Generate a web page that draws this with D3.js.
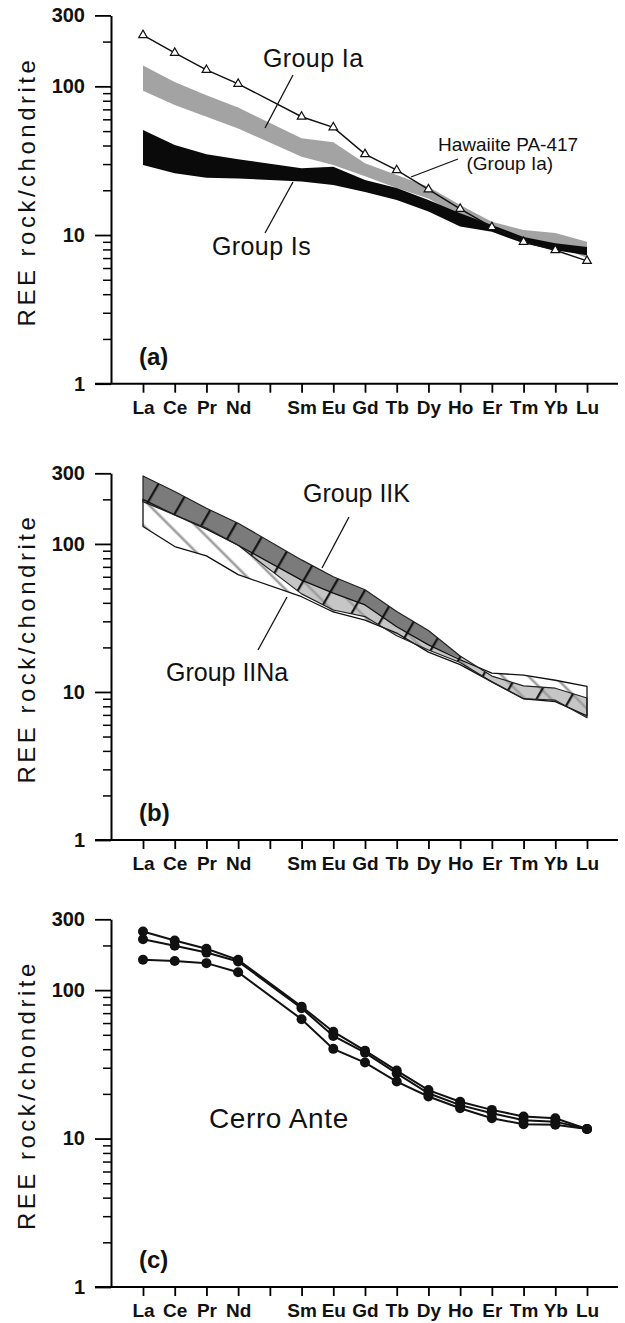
<!DOCTYPE html>
<html>
<head>
<meta charset="utf-8">
<script src="https://cdn.jsdelivr.net/npm/d3@7"></script>
<style>
  body { margin: 0; background: #fff; }
  svg { display: block; }
  text { font-family: "Liberation Sans", Arial, Helvetica, sans-serif; fill: #111; }
</style>
</head>
<body>
<svg width="625" height="1323"></svg>
<script>
// element slots on the x axis (Pm has a tick but no label / no data)
const ELEMENTS = ['La','Ce','Pr','Nd','Pm','Sm','Eu','Gd','Tb','Dy','Ho','Er','Tm','Yb','Lu'];
const REE = ['La','Ce','Pr','Nd','Sm','Eu','Gd','Tb','Dy','Ho','Er','Tm','Yb','Lu'];
const Y_MAJOR = [1, 10, 100, 300];
const Y_MINOR = [2,3,4,5,6,7,8,9,20,30,40,50,60,70,80,90,200];

// (a)
const hawaiite   = [221, 168, 129, 104, 62.5, 53, 35, 27.3, 20.3, 15, 11.3, 9.0, 7.9, 6.7];
const ia_upper   = [138, 107, 87, 72, 44.7, 42, 30.4, 25.3, 21.1, 15.9, 12.3, 10.8, 10.3, 9.0];
const ia_lower   = [93.4, 75, 62.5, 52, 33.6, 29.6, 24.8, 20.7, 17.6, 13.2, 11.0, 9.5, 8.6, 7.0];
const is_upper   = [50.8, 40.3, 35, 32.3, 28.1, 28.8, 23.4, 20.7, 17.2, 14.0, 11.7, 9.7, 8.8, 8.3];
const is_lower   = [29.6, 26, 24.3, 24, 22.9, 21.7, 19.5, 17.2, 14.4, 11.4, 10.5, 8.8, 7.9, 7.3];

// (b)
const iik_upper  = [288, 226, 174, 138, 78, 60, 49, 35, 26, 17.5, 12.8, 11.0, 10.6, 9.1];
const iik_lower  = [193, 157, 128, 98, 46, 35.8, 32.3, 24, 19.2, 15.8, 11.7, 9.0, 8.8, 6.7];
const iik_core_lower = [193, 157, 128, 98, 57, 46.5, 38.7, 27.6, 20.8, 16.8]; // La..Ho, dark part
const iina_upper = [200, 157, 126, 98, 57, 46.5, 38.7, 27.6, 20.8, 16.5, 13.4, 13.0, 12.0, 10.9];
const iina_lower = [131, 96, 83, 62, 44, 34.7, 30.6, 25, 18.6, 15.3, 11.7, 9.0, 8.6, 6.9];

// (c) Cerro Ante samples
const ca1 = [248, 216, 190, 160, 77.4, 52.5, 39.1, 28.7, 21.2, 17.7, 15.6, 14.1, 13.7, 11.6];
const ca2 = [220, 199, 179, 156, 75.5, 49.1, 37.9, 27.5, 20.2, 16.8, 14.8, 13.3, 13.0, 11.6];
const ca3 = [160, 157, 152, 132, 63.7, 40.2, 32.5, 24.2, 19.2, 16.0, 13.7, 12.5, 12.4, 11.6];

const svg = d3.select('svg');
const defs = svg.append('defs');

const x = d3.scalePoint().domain(ELEMENTS).range([143, 587]);
const axisX = 111, lineLeft = 95, lineRight = 618;

function rows(upper, lower) {
  return upper.map((u, i) => ({el: REE[i], hi: u, lo: lower ? lower[i] : u}));
}

function panel(top, bottom, tag) {
  const y = d3.scaleLog().domain([1, 300]).range([bottom, top]);
  const g = svg.append('g');

  // x axis
  const xa = g.append('g').attr('transform', `translate(0,${bottom})`)
    .call(d3.axisBottom(x).tickSize(9).tickPadding(7.5).tickSizeOuter(0)
      .tickFormat(d => d === 'Pm' ? '' : d));
  xa.select('.domain').attr('d', `M${lineLeft},0H${lineRight}`).attr('stroke-width', 2);
  xa.selectAll('.tick line').attr('stroke-width', 1.8);
  xa.selectAll('text').attr('font-size', 19).attr('font-weight', 'bold').attr('fill', '#111')
    .style('font-family', '"Liberation Sans", Arial, sans-serif');

  // y axis, major + minor
  const ya = g.append('g').attr('transform', `translate(${axisX},0)`)
    .call(d3.axisLeft(y).tickValues(Y_MAJOR).tickSize(16).tickPadding(10).tickSizeOuter(0)
      .tickFormat(d3.format('d')));
  ya.select('.domain').attr('stroke-width', 2);
  ya.selectAll('.tick line').attr('stroke-width', 1.8);
  ya.selectAll('text').attr('font-size', 20).attr('font-weight', 'bold').attr('fill', '#111')
    .style('font-family', '"Liberation Sans", Arial, sans-serif');
  const ym = g.append('g').attr('transform', `translate(${axisX},0)`)
    .call(d3.axisLeft(y).tickValues(Y_MINOR).tickSize(8).tickFormat(''));
  ym.select('.domain').remove();
  ym.selectAll('.tick line').attr('stroke-width', 1.5);

  g.append('text')
    .attr('transform', `translate(35,${(top + bottom) / 2 - 8}) rotate(-90)`)
    .attr('text-anchor', 'middle').attr('font-size', 24).attr('letter-spacing', 3.5)
    .text('REE rock/chondrite');

  g.append('text').attr('x', 139).attr('y', bottom - 19)
    .attr('font-size', 24).attr('font-weight', 'bold').text(tag);

  return {g, y};
}

function bandArea(y) {
  return d3.area().x(d => x(d.el)).y0(d => y(d.lo)).y1(d => y(d.hi));
}
function label(g, px, py, size, txt, ls) {
  g.append('text').attr('x', px).attr('y', py).attr('font-size', size)
    .attr('letter-spacing', ls || 0).text(txt);
}
function leader(g, x1, y1, x2, y2) {
  g.append('line').attr('x1', x1).attr('y1', y1).attr('x2', x2).attr('y2', y2)
    .attr('stroke', '#111').attr('stroke-width', 1.3);
}

// ---------- (a)
{
  const {g, y} = panel(15.4, 383.7, '(a)');
  const area = bandArea(y);
  g.append('path').datum(rows(ia_upper, ia_lower)).attr('d', area).attr('fill', '#a3a3a3');
  g.append('path').datum(rows(is_upper, is_lower)).attr('d', area).attr('fill', '#0a0a0a');

  const hw = rows(hawaiite);
  g.append('path').datum(hw)
    .attr('d', d3.line().x(d => x(d.el)).y(d => y(d.hi)))
    .attr('fill', 'none').attr('stroke', '#111').attr('stroke-width', 1.5);
  g.selectAll('.tri').data(hw).enter().append('path')
    .attr('transform', d => `translate(${x(d.el)},${y(d.hi)})`)
    .attr('d', d3.symbol(d3.symbolTriangle).size(32))
    .attr('fill', '#fff').attr('stroke', '#111').attr('stroke-width', 1.2);

  label(g, 263, 67, 25, 'Group Ia', 0.4);
  leader(g, 293, 75, 265, 128);
  label(g, 212, 255, 25, 'Group Is', 0.4);
  leader(g, 293, 182, 265, 233);
  label(g, 438, 150.5, 19, 'Hawaiite PA-417');
  label(g, 466.5, 170, 19, '(Group Ia)');
  leader(g, 458, 159, 411, 177);
}

// ---------- (b)
{
  const {g, y} = panel(473.3, 840, '(b)');
  const area = bandArea(y);

  const hatch = (id, angle, gap, pos, color, w) => {
    const p = defs.append('pattern').attr('id', id).attr('patternUnits', 'userSpaceOnUse')
      .attr('width', gap).attr('height', gap).attr('patternTransform', `rotate(${angle})`);
    [pos - gap, pos, pos + gap].forEach(px =>
      p.append('line').attr('x1', px).attr('y1', 0).attr('x2', px).attr('y2', gap)
        .attr('stroke', color).attr('stroke-width', w));
  };
  hatch('hatchNa', -45, 18.4, 5.9, '#9e9e9e', 2.6);
  hatch('hatchK', 30, 29, 2.2, '#111', 2.2);

  const kRows = rows(iik_upper, iik_lower);
  const naRows = rows(iina_upper, iina_lower);
  const coreRows = rows(iik_upper.slice(0, iik_core_lower.length), iik_core_lower);

  g.append('path').datum(kRows).attr('d', area).attr('fill', '#c6c6c6');
  g.append('path').datum(naRows).attr('d', area).attr('fill', 'url(#hatchNa)');
  g.append('path').datum(coreRows).attr('d', area).attr('fill', '#7b7b7b');
  g.append('path').datum(kRows).attr('d', area).attr('fill', 'url(#hatchK)');
  g.append('path').datum(naRows).attr('d', area).attr('fill', 'none')
    .attr('stroke', '#111').attr('stroke-width', 1.3).attr('stroke-linejoin', 'round');
  g.append('path').datum(kRows).attr('d', area).attr('fill', 'none')
    .attr('stroke', '#222').attr('stroke-width', 1.2).attr('stroke-linejoin', 'round');

  label(g, 303, 501.7, 25, 'Group IIK');
  leader(g, 349, 517, 322, 568);
  label(g, 166, 680.7, 25, 'Group IINa');
  leader(g, 287, 597, 258, 650);
}

// ---------- (c)
{
  const {g, y} = panel(919.3, 1287, '(c)');
  [ca1, ca2, ca3].forEach(s => {
    const r = rows(s);
    g.append('path').datum(r)
      .attr('d', d3.line().x(d => x(d.el)).y(d => y(d.hi)))
      .attr('fill', 'none').attr('stroke', '#111').attr('stroke-width', 2);
    g.selectAll(null).data(r).enter().append('circle')
      .attr('cx', d => x(d.el)).attr('cy', d => y(d.hi)).attr('r', 5).attr('fill', '#111');
  });
  label(g, 209, 1128, 28, 'Cerro Ante', 0.6);
}
</script>
</body>
</html>
